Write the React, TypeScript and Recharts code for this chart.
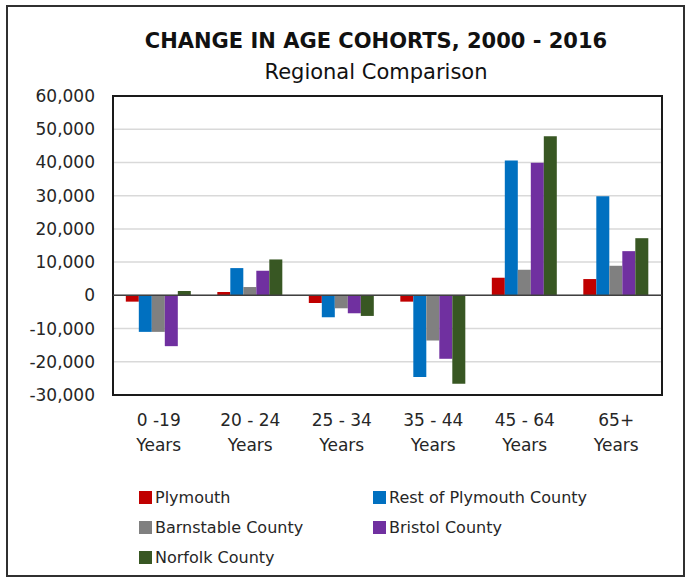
import React from "react";
import {
  BarChart,
  Bar,
  XAxis,
  YAxis,
  CartesianGrid,
  ReferenceLine,
  ReferenceArea,
  Legend,
} from "recharts";

const categories = ["0 -19\nYears", "20 - 24\nYears", "25 - 34\nYears", "35 - 44\nYears", "45 - 64\nYears", "65+\nYears"];

const plymouth = [-1900, 1000, -2300, -1900, 5300, 4900];
const restOfPlymouthCounty = [-11000, 8200, -6600, -24600, 40600, 29800];
const barnstableCounty = [-11000, 2500, -3900, -13600, 7700, 8900];
const bristolCounty = [-15300, 7400, -5400, -19100, 39900, 13300];
const norfolkCounty = [1300, 10800, -6200, -26600, 47900, 17200];

const seriesNames = ["Plymouth", "Rest of Plymouth County", "Barnstable County", "Bristol County", "Norfolk County"];
const seriesKeys = ["plymouth", "rest", "barnstable", "bristol", "norfolk"];
const seriesColors = ["#C00000", "#0070C0", "#808080", "#7030A0", "#385723"];
const yTicks = [-30000, -20000, -10000, 0, 10000, 20000, 30000, 40000, 50000, 60000];

const title = "CHANGE IN AGE COHORTS, 2000 - 2016";
const subtitle = "Regional Comparison";

const seriesValues = [plymouth, restOfPlymouthCounty, barnstableCounty, bristolCounty, norfolkCounty];
const data = categories.map((c, i) => {
  const row: Record<string, string | number> = { category: c };
  seriesKeys.forEach((k, s) => {
    row[k] = seriesValues[s][i];
  });
  return row;
});

const FONT = "'DejaVu Sans', sans-serif";
const TEXT = "#262626";

const fmt = (v: number) => v.toLocaleString("en-US");

const CategoryTick = (props: any) => {
  const { x, y, payload } = props;
  const lines = String(payload.value).split("\n");
  return (
    <text x={x} y={y} textAnchor="middle" fontFamily={FONT} fontSize={17} fill={TEXT}>
      {lines.map((l, i) => (
        <tspan key={i} x={x} dy={i === 0 ? 31 : 25}>
          {l}
        </tspan>
      ))}
    </text>
  );
};

const LegendContent = () => {
  const order = [0, 1, 2, 3, 4];
  return (
    <div
      style={{
        position: "relative",
        width: 687,
        height: 90,
        fontFamily: FONT,
        fontSize: 16,
        color: TEXT,
      }}
    >
      {order.map((s, i) => {
        const col = i % 2;
        const row = Math.floor(i / 2);
        return (
          <div
            key={s}
            style={{
              position: "absolute",
              left: col === 0 ? 139 : 373,
              top: row * 30,
              height: 30,
              display: "flex",
              alignItems: "center",
              whiteSpace: "nowrap",
            }}
          >
            <span
              style={{
                display: "inline-block",
                width: 13,
                height: 13,
                background: seriesColors[s],
                marginRight: 3,
              }}
            />
            <span>{seriesNames[s]}</span>
          </div>
        );
      })}
    </div>
  );
};

export default function App() {
  return (
    <div style={{ position: "absolute", left: 0, top: 0, width: 687, height: 579, background: "#fff" }}>
      <div
        style={{
          position: "absolute",
          left: 6,
          top: 5,
          width: 675,
          height: 568,
          border: "2px solid #303030",
        }}
      />
      <div
        style={{
          position: "absolute",
          left: 76,
          top: 31,
          width: 600,
          textAlign: "center",
          fontFamily: FONT,
          fontWeight: "bold",
          fontSize: 21,
          lineHeight: "21px",
          color: "#111",
          whiteSpace: "nowrap",
        }}
      >
        {title}
      </div>
      <div
        style={{
          position: "absolute",
          left: 76,
          top: 62,
          width: 600,
          textAlign: "center",
          fontFamily: FONT,
          fontSize: 21,
          lineHeight: "21px",
          color: "#111",
          whiteSpace: "nowrap",
        }}
      >
        {subtitle}
      </div>
      <div style={{ position: "absolute", left: 0, top: 0 }}>
        <BarChart
          width={687}
          height={579}
          data={data}
          margin={{ top: 96, right: 25, bottom: 24, left: 0 }}
          barCategoryGap="14%"
          barGap={0}
        >
          <CartesianGrid vertical={false} stroke="#d9d9d9" strokeWidth={1.5} />
          <XAxis
            dataKey="category"
            tick={<CategoryTick />}
            tickLine={false}
            axisLine={false}
            tickSize={0}
            tickMargin={0}
            height={70}
            interval={0}
          />
          <YAxis
            domain={[-30000, 60000]}
            ticks={yTicks}
            tickFormatter={fmt}
            tickLine={false}
            axisLine={false}
            tickSize={0}
            tickMargin={18}
            width={113}
            tick={{ fontFamily: FONT, fontSize: 17, fill: TEXT }}
          />
          <Legend
            verticalAlign="bottom"
            content={<LegendContent />}
            wrapperStyle={{ left: 0, top: 482, width: 687, height: 90 }}
          />
          {seriesKeys.map((k, s) => (
            <Bar
              key={k}
              dataKey={k}
              name={seriesNames[s]}
              fill={seriesColors[s]}
              isAnimationActive={false}
            />
          ))}
          <ReferenceLine y={0} stroke="#404040" strokeWidth={1.5} />
          <ReferenceArea y1={-30000} y2={60000} fill="none" fillOpacity={0} stroke="#1a1a1a" strokeWidth={2} />
        </BarChart>
      </div>
    </div>
  );
}
